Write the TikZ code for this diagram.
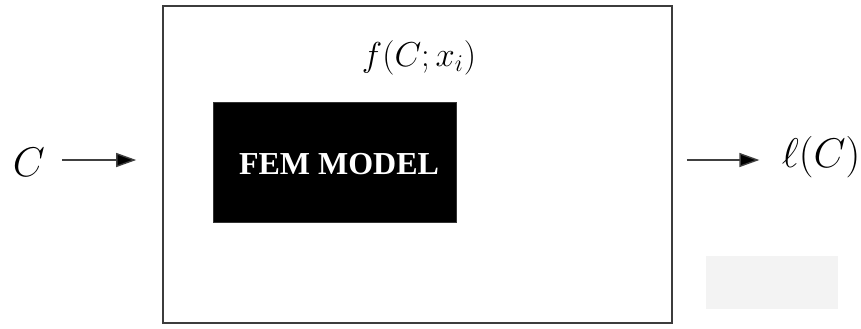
\documentclass[tikz,border=0pt]{standalone}
\usepackage{fontspec}
\usetikzlibrary{arrows.meta, positioning, calc}
\newfontfamily\femfont{Liberation Serif}
\definecolor{charcoal}{RGB}{60, 60, 60}
\definecolor{patchgray}{RGB}{243, 243, 243}

\begin{document}
\begin{tikzpicture}[x=0.5pt, y=-0.5pt,
            frame/.style={draw=charcoal, line width=0.8pt, minimum width=254.5pt, minimum height=158.5pt, inner sep=0pt},
            blackbox/.style={fill=black, draw=black!80, minimum width=121.5pt, minimum height=60pt},
            var/.style={inner sep=0pt, font=\fontsize{22}{26}\selectfont},
            arrow/.style={-{Triangle[length=10pt, width=7pt, fill=black]}, line width=0.7pt, draw=black!75}
        ]
            \useasboundingbox (0,0) rectangle (861,328);
            \node[frame] (frame) at (417.5,164.5) {};
            \node[blackbox] (fem) at (334.5,162) {};
            \node[text=white, font=\femfont\bfseries\fontsize{16}{19}\selectfont] (femtext) at (339,164) {FEM MODEL};
            \node[font=\fontsize{16.5}{20}\selectfont] (func) at (419,57.5) {$f(C;x_i)$};
            \node[var] (input) at (29,162) {$C$};
            \node[var] (output) at (821,157) {$\ell(C)$};
            \node[fill=patchgray, minimum width=66pt, minimum height=26.5pt] (patch) at (772,282.5) {};
            
            \draw[arrow] ([xshift=8.5pt]input.east |- 0,160) -- ([xshift=-13pt]frame.west |- 0,160);
            \draw[arrow] ([xshift=7pt]frame.east |- 0,160) -- ([xshift=-11pt]output.west |- 0,160);
        \end{tikzpicture}
\end{document}
